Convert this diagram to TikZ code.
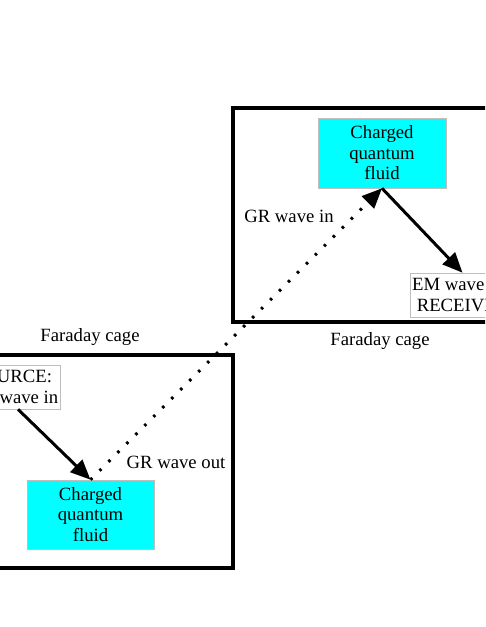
\documentclass[tikz,border=0pt]{standalone}
\usepackage{fontspec}
\setmainfont{Liberation Serif}
\usetikzlibrary{arrows.meta}
\definecolor{aqua}{RGB}{0,255,255}
\definecolor{boxedge}{RGB}{190,190,190}
\tikzset{
  cage/.style={draw=black, line width=3.5pt, rectangle, inner sep=0pt},
  fluid/.style={draw=boxedge, line width=0.6pt, fill=aqua, rectangle, inner sep=0pt, align=center},
  txtbox/.style={draw=boxedge, line width=0.6pt, fill=white, rectangle, inner sep=0pt, align=center},
  lbl/.style={inner sep=0pt},
  arr/.style={line width=3pt, -{Triangle[length=20pt,width=17pt]}},
  dotarr/.style={line width=3pt, dash pattern=on 2.6pt off 10.1pt, -{Triangle[length=20pt,width=17pt]}}
}
\begin{document}
\begin{tikzpicture}[x=1pt,y=-1pt]
\useasboundingbox (0,0) rectangle (485,627);
\clip (0,0) rectangle (485,627);
\fontsize{18.7}{20.5}\selectfont
% cages
\node[cage, minimum width=253pt, minimum height=213pt] (cageL) at (106.5,461.5) {};
\node[cage, minimum width=287pt, minimum height=214pt] (cageU) at (376.5,215) {};
% labels
\node[lbl] (labL) at (90,337) {Faraday cage};
\node[lbl] (labU) at (380,341) {Faraday cage};
\node[lbl] (grout) at (176,462) {GR wave out};
\node[lbl] (grin) at (289,216) {GR wave in};
% boxes
\node[fluid, minimum width=127pt, minimum height=69pt] (fluidL) at (90.5,514.5) {Charged\\quantum\\fluid};
\node[fluid, minimum width=128pt, minimum height=70pt] (fluidU) at (382,153) {Charged\\quantum\\fluid};
\node[txtbox, minimum width=95pt, minimum height=44pt] (src) at (12.5,387) {SOURCE:\\EM wave in};
\node[txtbox, minimum width=105pt, minimum height=44pt] (rcv) at (462.5,295) {EM wave out\\RECEIVER};
% connectors
\draw[arr] ([xshift=5.5pt]src.south) -- (fluidL.north);
\draw[dotarr] (fluidL.north) -- (fluidU.south);
\draw[arr] (fluidU.south) -- (rcv.north);
\end{tikzpicture}
\end{document}
